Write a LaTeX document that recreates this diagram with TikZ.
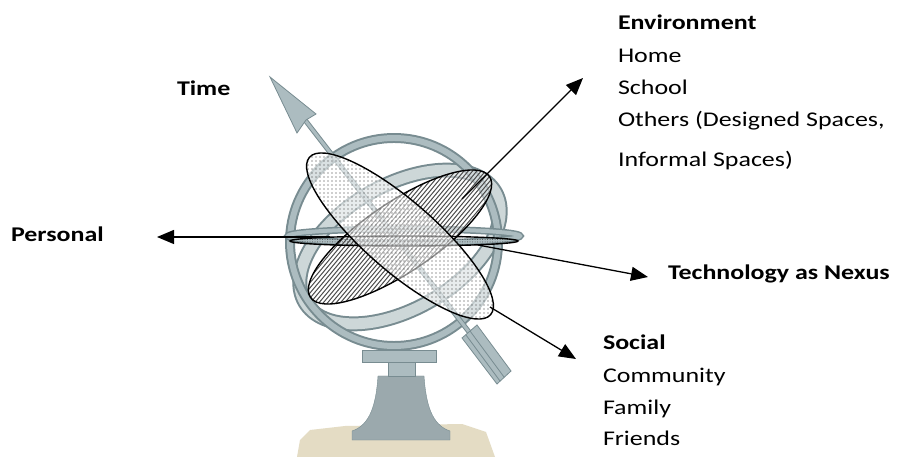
\documentclass[tikz,border=0pt]{standalone}
\usepackage{fontspec}
\setmainfont{Carlito}
\usetikzlibrary{arrows.meta,patterns.meta}
\definecolor{metal}{RGB}{172,188,192}
\definecolor{metaldk}{RGB}{120,140,145}
\definecolor{metallt}{RGB}{205,215,216}
\definecolor{stone}{RGB}{228,220,196}
\newcommand{\hstretch}[1]{\scalebox{1.24}[1]{#1}}
\tikzset{
  lab/.style={inner sep=0pt, outer sep=0pt, anchor=base west, font=\fontsize{21}{25}\selectfont},
  conn/.style={-{Triangle[length=17bp,width=14bp]}, line width=1.3bp, black},
  ring/.style={draw=metaldk, line width=#1},
  ringin/.style={draw=metal, line width=#1},
  rim/.style={line width=1.4bp, black},
  hatch/.style={line width=1bp, black!70}
}
\begin{document}
\begin{tikzpicture}[x=1bp,y=-1bp]
\useasboundingbox (0,0) rectangle (901,457);
\fill[white] (0,0) rectangle (901,457);
% ---------- armillary sphere (photo) ----------
% stone base
\fill[stone] (297,457) -- (300,440) -- (310,430) -- (345,426) -- (462,424) -- (486,432) -- (495,457) -- cycle;
% bell pedestal
\filldraw[fill=metal!90!black, draw=metaldk] (378,376) -- (424,376) .. controls (426,405) and (432,425) .. (450,431) -- (450,440) -- (352,440) -- (352,431) .. controls (370,425) and (376,405) .. (378,376) -- cycle;
\filldraw[fill=metal, draw=metaldk] (388,362) rectangle (415,376);
\filldraw[fill=metal, draw=metaldk] (362,350) rectangle (436,362);
% tilted ring band
\draw[ring=15, rotate around={30:(400,247)}] (400,247) ellipse [x radius=110, y radius=62];
\draw[draw=metallt, line width=11, rotate around={30:(400,247)}] (400,247) ellipse [x radius=110, y radius=62];
% outer meridian ring
\draw[ring=10] (394,242) circle (104);
\draw[ringin=6] (394,242) circle (104);
% horizontal ring
\draw[ring=7] (404,236) ellipse [x radius=116, y radius=7];
\draw[ringin=4] (404,236) ellipse [x radius=116, y radius=7];
% arrow shaft
\draw[metaldk, line width=5] (305,120) -- (500,372);
\draw[metal, line width=3] (305,120) -- (500,372);
% arrow head
\filldraw[fill=metal, draw=metaldk, line width=0.8] (270,77) -- (316,114) -- (306,120) -- (297,133) -- cycle;
% fletching
\filldraw[fill=metal, draw=metaldk, line width=0.8] (462,338) -- (477,325) -- (511,371) -- (497,384) -- cycle;
\draw[metaldk, line width=0.8] (470,331) -- (504,377);
\draw[metaldk, line width=0.8] (466,335) -- (500,381);
% ---------- overlay ellipses ----------
% hatched ellipse
\begin{scope}
\clip[rotate around={34:(400,237)}] (400,237) ellipse [x radius=108, y radius=35];
\fill[white, opacity=0.45] (280,120) rectangle (520,360);
\foreach \k in {-42,...,42} {
  \draw[hatch] (400+4.3*\k-128.6, 390.2) -- (400+4.3*\k+128.6, 83.8);
}
\end{scope}
\draw[rim, rotate around={34:(400,237)}] (400,237) ellipse [x radius=108, y radius=35];
% thin horizontal ellipse
\path[pattern={Dots[distance=2.5bp,radius=0.5bp]}, pattern color=black!70] (404,241) ellipse [x radius=114, y radius=5];
\draw[rim] (404,241) ellipse [x radius=114, y radius=5];
% dotted ellipse
\fill[white, opacity=0.55, rotate around={-41:(400,236)}] (400,236) ellipse [x radius=120, y radius=35];
\path[pattern={Dots[distance=4bp,radius=0.55bp]}, pattern color=black!80, rotate around={-41:(400,236)}] (400,236) ellipse [x radius=120, y radius=35];
\draw[rim, rotate around={-41:(400,236)}] (400,236) ellipse [x radius=120, y radius=35];
% ---------- connectors ----------
\coordinate (perS) at (330,237);
\coordinate (perE) at (157,237);
\coordinate (envS) at (462,199);
\coordinate (envE) at (583,78);
\coordinate (tecS) at (478,245);
\coordinate (tecE) at (648,277);
\coordinate (socS) at (490,307);
\coordinate (socE) at (576,359);
\draw[conn] (perS) -- (perE);
\draw[conn] (envS) -- (envE);
\draw[conn] (tecS) -- (tecE);
\draw[conn] (socS) -- (socE);
% ---------- labels ----------
\node[lab] (time) at (177,96) {\hstretch{\textbf{Time}}};
\node[lab] (personal) at (11,242) {\hstretch{\textbf{Personal}}};
\node[lab] (tech) at (668,280) {\hstretch{\textbf{Technology as Nexus}}};
\node[lab] (env) at (618,30) {\hstretch{\textbf{Environment}}};
\node[lab] (home) at (618,63) {\hstretch{Home}};
\node[lab] (school) at (618,95) {\hstretch{School}};
\node[lab] (others) at (618,127) {\hstretch{Others (Designed Spaces,}};
\node[lab] (informal) at (618,167) {\hstretch{Informal Spaces)}};
\node[lab] (social) at (603,350) {\hstretch{\textbf{Social}}};
\node[lab] (community) at (603,383) {\hstretch{Community}};
\node[lab] (family) at (603,414) {\hstretch{Family}};
\node[lab] (friends) at (603,445) {\hstretch{Friends}};
\end{tikzpicture}
\end{document}
